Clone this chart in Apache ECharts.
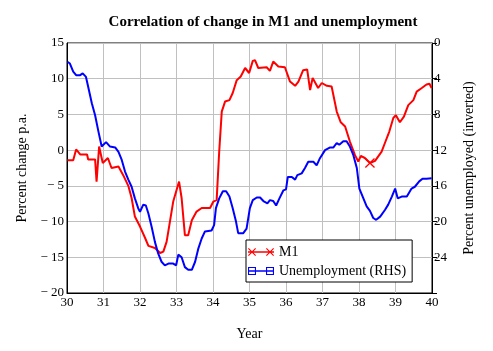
<!DOCTYPE html>
<html>
<head>
<meta charset="utf-8">
<script src="https://cdn.jsdelivr.net/npm/echarts@6/dist/echarts.min.js"></script>
<style>
  html, body { margin: 0; padding: 0; background: #fff; }
  #chart { width: 493px; height: 351px; }
</style>
</head>
<body>
<div id="chart"></div>
<script>
// M1, percent change p.a. (left axis)
var m1Year = [30.01, 30.17, 30.25, 30.36, 30.55, 30.58, 30.77, 30.81, 30.88, 30.98,
  31.12, 31.22, 31.41, 31.54, 31.68, 31.77, 31.86, 32.00, 32.14, 32.23,
  32.41, 32.55, 32.64, 32.73, 32.82, 32.91, 33.07, 33.14, 33.23, 33.32,
  33.42, 33.55, 33.69, 33.92, 34.01, 34.10, 34.17, 34.24, 34.33, 34.45,
  34.54, 34.65, 34.76, 34.88, 34.99, 35.09, 35.15, 35.24, 35.47, 35.56,
  35.65, 35.79, 35.97, 36.11, 36.25, 36.34, 36.47, 36.58, 36.66, 36.73,
  36.88, 36.98, 37.12, 37.25, 37.39, 37.50, 37.62, 37.75, 37.89, 37.98,
  38.05, 38.16, 38.30, 38.44, 38.62, 38.71, 38.83, 38.94, 39.01, 39.12,
  39.23, 39.35, 39.49, 39.58, 39.72, 39.85, 39.93, 39.99];
var m1Value = [-1.4, -1.4, 0.1, -0.6, -0.6, -1.3, -1.3, -4.4, 0.5, -1.8,
  -1.1, -2.5, -2.3, -3.5, -5.0, -6.7, -9.3, -10.7, -12.3, -13.4,
  -13.7, -14.4, -14.2, -12.8, -10.0, -7.2, -4.4, -6.7, -11.9, -11.9,
  -9.8, -8.6, -8.1, -8.1, -7.2, -7.0, -0.2, 5.4, 6.8, 7.0,
  8.0, 9.8, 10.3, 11.5, 10.8, 12.5, 12.6, 11.5, 11.6, 11.1,
  12.4, 11.7, 11.6, 9.6, 9.0, 9.6, 11.2, 11.3, 8.4, 10.1,
  8.7, 9.4, 9.0, 8.9, 5.4, 3.9, 3.3, 1.2, -0.7, -1.6,
  -0.8, -1.1, -1.8, -1.5, -0.2, 1.0, 2.6, 4.5, 4.9, 3.9,
  4.7, 6.3, 7.0, 8.2, 8.7, 9.2, 9.3, 8.7];
var m1MarkYear = 38.30;

// Unemployment, percent (right axis, inverted)
var unYear = [30.01, 30.08, 30.17, 30.25, 30.36, 30.43, 30.52, 30.58, 30.68, 30.77,
  30.86, 30.95, 30.99, 31.07, 31.18, 31.32, 31.41, 31.50, 31.59, 31.68,
  31.77, 31.86, 31.95, 32.00, 32.09, 32.16, 32.23, 32.32, 32.41, 32.50,
  32.59, 32.68, 32.78, 32.91, 32.99, 33.05, 33.14, 33.23, 33.32, 33.42,
  33.51, 33.60, 33.69, 33.78, 33.96, 34.03, 34.08, 34.17, 34.27, 34.36,
  34.45, 34.54, 34.63, 34.69, 34.83, 34.92, 35.01, 35.09, 35.20, 35.29,
  35.38, 35.49, 35.56, 35.65, 35.73, 35.82, 35.93, 36.00, 36.05, 36.16,
  36.25, 36.31, 36.43, 36.52, 36.61, 36.66, 36.75, 36.84, 36.93, 37.07,
  37.21, 37.30, 37.39, 37.46, 37.57, 37.66, 37.75, 37.84, 37.94, 38.01,
  38.12, 38.21, 38.30, 38.39, 38.47, 38.58, 38.71, 38.80, 38.90, 38.99,
  39.06, 39.17, 39.31, 39.44, 39.53, 39.65, 39.74, 39.85, 39.99];
var unValue = [2.1, 2.3, 3.2, 3.6, 3.6, 3.4, 3.8, 4.9, 6.75, 8.1,
  9.9, 11.6, 11.4, 11.1, 11.6, 11.7, 12.2, 13.1, 14.4, 15.3,
  16.1, 17.4, 18.5, 18.9, 18.1, 18.2, 19.1, 20.6, 22.3, 23.6,
  24.5, 24.9, 24.7, 24.7, 24.9, 23.7, 24.0, 25.1, 25.4, 25.4,
  24.5, 23.0, 21.9, 21.1, 21.0, 20.4, 18.5, 17.4, 16.6, 16.6,
  17.2, 18.5, 20.0, 21.3, 21.3, 20.8, 18.5, 17.6, 17.3, 17.3,
  17.7, 17.95, 17.6, 17.7, 18.2, 17.4, 16.5, 16.4, 15.0, 15.0,
  15.3, 14.8, 14.6, 14.0, 13.3, 13.3, 13.3, 13.7, 12.9, 12.0,
  11.7, 11.7, 11.2, 11.4, 11.0, 11.0, 11.6, 12.5, 14.0, 16.3,
  17.4, 18.3, 18.8, 19.6, 19.8, 19.45, 18.7, 18.1, 17.2, 16.3,
  17.4, 17.2, 17.2, 16.3, 16.1, 15.5, 15.2, 15.2, 15.15];

var leftTicks = { min: -20, max: 15, interval: 5 };
var rightTicks = { min: 0, max: 28, interval: 4 };
var xTicks = { min: 30, max: 40, interval: 1 };

var FONT = "'Liberation Serif', 'DejaVu Serif', serif";

// filled X shape centred at (cx, cy), half-size h, arm thickness t
function crossPath(cx, cy, h, t) {
  var p = [
    [cx - h, cy - h + t], [cx - h + t, cy - h], [cx, cy - t], [cx + h - t, cy - h],
    [cx + h, cy - h + t], [cx + t, cy], [cx + h, cy + h - t], [cx + h - t, cy + h],
    [cx, cy + t], [cx - h + t, cy + h], [cx - h, cy + h - t], [cx - t, cy]
  ];
  return 'M' + p.map(function (q) { return q[0] + ',' + q[1]; }).join('L') + 'Z';
}
// hollow square centred at (cx, cy)
function squarePath(cx, cy, h, t) {
  return 'M' + (cx - h) + ',' + (cy - h) + 'H' + (cx + h) + 'V' + (cy + h) + 'H' + (cx - h) + 'Z' +
    'M' + (cx - h + t) + ',' + (cy - h + t) + 'V' + (cy + h - t) + 'H' + (cx + h - t) + 'V' + (cy - h + t) + 'Z';
}
var lineBar = 'M0,4.2H26V5.8H0Z';
var m1Icon = 'path://' + lineBar + crossPath(4, 5, 4, 0.8) + crossPath(22, 5, 4, 0.8);
var unIcon = 'path://' + lineBar + squarePath(4, 5, 4, 1.1) + squarePath(22, 5, 4, 1.1);
var xMark = 'path://' + crossPath(5, 5, 5, 0.9);

function pairs(xs, ys) {
  return xs.map(function (x, i) { return [x, ys[i]]; });
}
var m1Data = pairs(m1Year, m1Value).map(function (d) {
  if (d[0] === m1MarkYear) return { value: d, symbol: xMark, symbolSize: 10 };
  return d;
});

function minusFmt(v) {
  return v < 0 ? '\u2212 ' + Math.abs(v) : String(v);
}

var chart = echarts.init(document.getElementById('chart'));
chart.setOption({
  animation: false,
  backgroundColor: '#fff',
  textStyle: { fontFamily: FONT, color: '#000' },
  title: {
    text: 'Correlation of change in M1 and unemployment',
    left: 258, textAlign: 'center', top: 10,
    textStyle: { fontFamily: FONT, fontSize: 15, fontWeight: 'bold', color: '#000' }
  },
  grid: { left: 67, right: 61, top: 43, bottom: 58, show: true, borderColor: '#000', borderWidth: 1 },
  legend: {
    orient: 'vertical', left: 246, top: 240,
    backgroundColor: '#fff', borderColor: '#000', borderWidth: 1,
    padding: [5, 6, 4, 2], itemGap: 5, itemWidth: 26, itemHeight: 10,
    textStyle: { fontFamily: FONT, fontSize: 14, color: '#000' },
    itemStyle: { borderWidth: 0 },
    data: [
      { name: 'M1', icon: m1Icon },
      { name: 'Unemployment (RHS)', icon: unIcon }
    ]
  },
  xAxis: {
    type: 'value', min: xTicks.min, max: xTicks.max, interval: xTicks.interval,
    name: 'Year', nameLocation: 'middle', nameGap: 34,
    nameTextStyle: { fontFamily: FONT, fontSize: 14, color: '#000' },
    axisLine: { onZero: false, lineStyle: { color: '#000' } },
    axisTick: { show: false },
    axisLabel: { fontFamily: FONT, fontSize: 13, color: '#000', margin: 3 },
    splitLine: { show: true, lineStyle: { color: '#c0c0c0', width: 1 } }
  },
  yAxis: [
    {
      type: 'value', min: leftTicks.min, max: leftTicks.max, interval: leftTicks.interval,
      name: 'Percent change p.a.', nameLocation: 'middle', nameGap: 38,
      nameTextStyle: { fontFamily: FONT, fontSize: 14, color: '#000' },
      axisLine: { show: true, onZero: false, lineStyle: { color: '#000' } },
      axisTick: { show: false },
      axisLabel: { fontFamily: FONT, fontSize: 13, color: '#000', margin: 3, formatter: minusFmt },
      splitLine: { show: true, lineStyle: { color: '#c0c0c0', width: 1 } }
    },
    {
      type: 'value', position: 'right', inverse: true,
      min: rightTicks.min, max: rightTicks.max, interval: rightTicks.interval,
      name: 'Percent unemployed (inverted)', nameLocation: 'middle', nameGap: 30,
      nameRotate: 90,
      nameTextStyle: { fontFamily: FONT, fontSize: 14, color: '#000' },
      axisLine: { show: true, onZero: false, lineStyle: { color: '#000' } },
      axisTick: { show: true, length: 5, lineStyle: { color: '#000' } },
      axisLabel: {
        fontFamily: FONT, fontSize: 13, color: '#000', margin: 2,
        formatter: function (v) { return v === rightTicks.max ? '' : String(v); }
      },
      splitLine: { show: false }
    }
  ],
  series: [
    {
      name: 'M1', type: 'line', yAxisIndex: 0, data: m1Data,
      symbol: 'none', showSymbol: true,
      lineStyle: { color: '#ff0000', width: 2 }, itemStyle: { color: '#ff0000' }
    },
    {
      name: 'Unemployment (RHS)', type: 'line', yAxisIndex: 1, data: pairs(unYear, unValue),
      symbol: 'none',
      lineStyle: { color: '#0000ff', width: 2 }, itemStyle: { color: '#0000ff' }
    }
  ]
});
</script>
</body>
</html>
